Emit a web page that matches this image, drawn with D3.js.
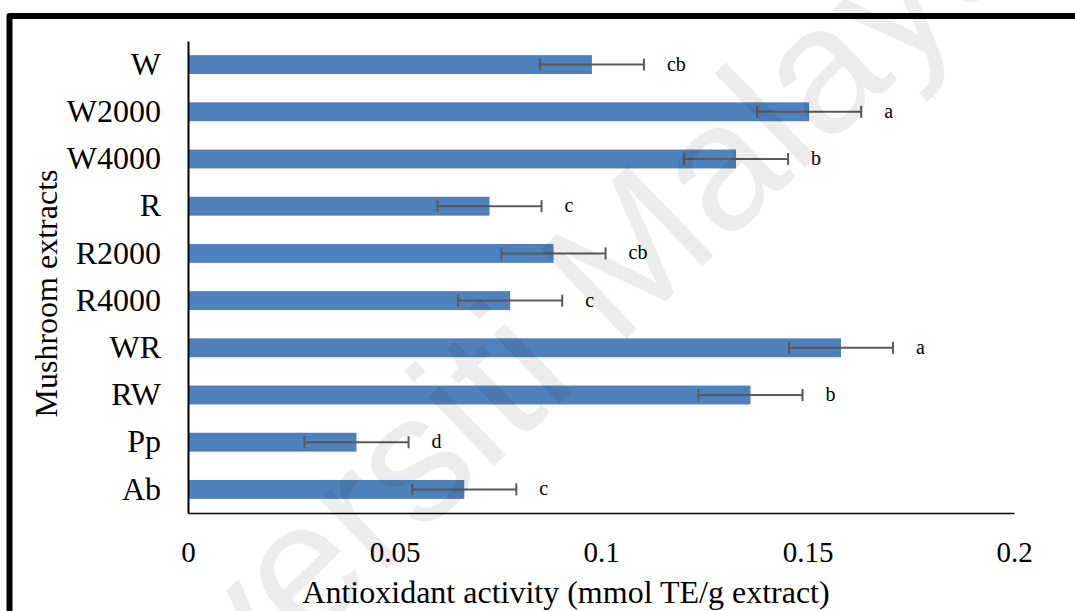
<!DOCTYPE html>
<html>
<head>
<meta charset="utf-8">
<script src="https://cdn.jsdelivr.net/npm/d3@7"></script>
<style>
  html, body { margin: 0; padding: 0; background: #fff; }
  svg { display: block; }
  text { font-family: "Liberation Serif", "Times New Roman", serif; fill: #000; }
</style>
</head>
<body>
<svg id="chart" width="1075" height="611"></svg>
<script>
const categories = ["W", "W2000", "W4000", "R", "R2000", "R4000", "WR", "RW", "Pp", "Ab"];
const values = [0.0978, 0.1504, 0.1327, 0.0730, 0.0885, 0.0780, 0.1581, 0.1362, 0.0408, 0.0669];
const errors = [0.0126, 0.0126, 0.0126, 0.0126, 0.0126, 0.0126, 0.0126, 0.0126, 0.0126, 0.0126];
const letters = ["cb", "a", "b", "c", "cb", "c", "a", "b", "d", "c"];
const xTicks = [0, 0.05, 0.1, 0.15, 0.2];
const xTickLabels = ["0", "0.05", "0.1", "0.15", "0.2"];
const xTitle = "Antioxidant activity (mmol TE/g extract)";
const yTitle = "Mushroom extracts";
const watermark = "Universiti Malaya";

(function () {
const svg = d3.select("#chart");
const pLeft = 188, pRight = 1014, pTop = 41, pBottom = 513;

const x = d3.scaleLinear().domain([0, 0.2]).range([pLeft, pRight]);
const y = d3.scaleBand().domain(categories).range([pTop, pBottom]).paddingInner(0.6).paddingOuter(0.3);

const data = categories.map((c, i) => ({ c, v: values[i], e: errors[i], l: letters[i] }));

// frame
svg.append("path")
  .attr("d", "M9.5,620 V16 H1085")
  .attr("fill", "none").attr("stroke", "#000").attr("stroke-width", 6)
  .attr("stroke-linejoin", "round");

// bars
svg.append("g").selectAll("rect").data(data).join("rect")
  .attr("x", x(0))
  .attr("y", d => y(d.c))
  .attr("width", d => x(d.v) - x(0))
  .attr("height", y.bandwidth())
  .attr("fill", "#4f81bd");

// error bars
const eg = svg.append("g").attr("stroke", "#595959").attr("stroke-width", 2).attr("fill", "none");
data.forEach(d => {
  const cy = y(d.c) + y.bandwidth() / 2;
  eg.append("line").attr("x1", x(d.v - d.e)).attr("x2", x(d.v + d.e)).attr("y1", cy).attr("y2", cy);
  eg.append("line").attr("x1", x(d.v - d.e)).attr("x2", x(d.v - d.e)).attr("y1", cy - 6).attr("y2", cy + 6);
  eg.append("line").attr("x1", x(d.v + d.e)).attr("x2", x(d.v + d.e)).attr("y1", cy - 6).attr("y2", cy + 6);
});

// significance letters
svg.append("g").selectAll("text").data(data).join("text")
  .attr("x", d => x(d.v + d.e) + 23)
  .attr("y", d => y(d.c) + y.bandwidth() / 2 + 6)
  .attr("font-size", 20)
  .text(d => d.l);

// axes
const xAxis = d3.axisBottom(x).tickValues(xTicks).tickFormat((d, i) => xTickLabels[i]).tickSize(0).tickPadding(0);
const gx = svg.append("g").attr("transform", `translate(0,${pBottom})`).call(xAxis);
gx.select(".domain").attr("stroke", "#000").attr("stroke-width", 1.5);
gx.selectAll("text").attr("font-size", 29).attr("font-family", "Liberation Serif").attr("fill", "#000")
  .attr("dy", 0).attr("y", 49);

const yAxis = d3.axisLeft(y).tickSize(0).tickPadding(0);
const gy = svg.append("g").attr("transform", `translate(${pLeft},0)`).call(yAxis);
gy.select(".domain").attr("stroke", "#000").attr("stroke-width", 2);
gy.selectAll("text").attr("font-size", 32).attr("font-family", "Liberation Serif").attr("fill", "#000")
  .attr("x", -27).attr("dy", "0.32em");

// titles
svg.append("text").attr("x", 566).attr("y", 603).attr("text-anchor", "middle").attr("font-size", 32).text(xTitle);
svg.append("text").attr("transform", "translate(57,293.5) rotate(-90)").attr("text-anchor", "middle").attr("font-size", 32).text(yTitle);

// watermark
svg.append("g")
  .attr("transform", "translate(265,575) rotate(-2.8) scale(0.924) translate(-220,-570)")
  .append("text")
  .attr("transform", "translate(-35,906) rotate(-41)")
  .attr("font-size", 195)
  .attr("fill", "#000").attr("fill-opacity", 0.075)
  .style("font-family", "Liberation Sans")
  .text(watermark);
})();
</script>
</body>
</html>
